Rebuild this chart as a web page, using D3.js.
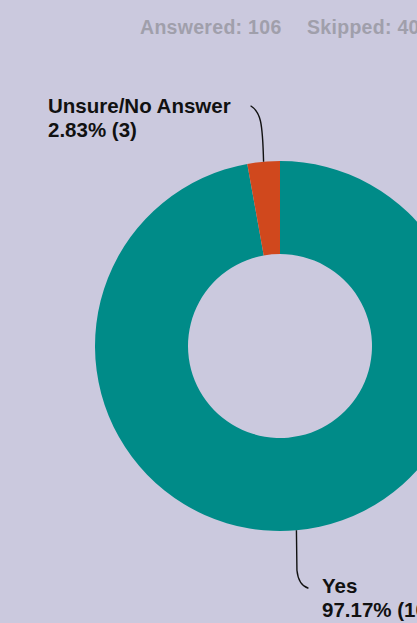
<!DOCTYPE html>
<html>
<head>
<meta charset="utf-8">
<script src="https://cdn.jsdelivr.net/npm/d3@7"></script>
<style>
  html, body { margin: 0; padding: 0; background: #cbc9de; overflow: hidden; }
  svg { display: block; font-family: "Liberation Sans", Arial, sans-serif; }
</style>
</head>
<body>
<script>
const categories = ["Yes", "Unsure/No Answer"];
const counts = [103, 3];
const percents = ["97.17%", "2.83%"];
const colors = ["#008b88", "#d0481d"];
const answered = 106;
const skipped = 40;

const width = 417,
  height = 623;

const cx = 280, cy = 346;
const outerR = 185, innerR = 92;

const svg = d3.select("body")
  .append("svg")
  .attr("width", width)
  .attr("height", height);

// header
svg.append("text")
  .attr("x", 140)
  .attr("y", 34)
  .attr("fill", "#a09fab")
  .attr("font-size", 19.5)
  .attr("font-weight", "bold")
  .attr("letter-spacing", 0.3)
  .text("Answered: " + answered);

svg.append("text")
  .attr("x", 307)
  .attr("y", 34)
  .attr("fill", "#a09fab")
  .attr("font-size", 19.5)
  .attr("font-weight", "bold")
  .attr("letter-spacing", 0.3)
  .text("Skipped: " + skipped);

const data = categories.map((c, i) => ({ name: c, count: counts[i], pct: percents[i], color: colors[i] }));

const pie = d3.pie().sort(null).value(d => d.count);
const arc = d3.arc().innerRadius(innerR).outerRadius(outerR);

const g = svg.append("g").attr("transform", "translate(" + cx + "," + cy + ")");

const arcs = pie(data);

g.selectAll("path.slice")
  .data(arcs)
  .join("path")
  .attr("class", "slice")
  .attr("d", arc)
  .attr("fill", d => d.data.color);

// leader lines + labels
arcs.forEach(d => {
  let a = (d.startAngle + d.endAngle) / 2;
  let x0 = outerR * Math.sin(a),
    y0 = -outerR * Math.cos(a);
  let line, lx, ly;
  if (y0 < 0) {
    // top label
    line = "M" + x0 + "," + y0 +
      " C" + (x0 - 1) + "," + (y0 - 40) + " " + (x0 - 3) + "," + (y0 - 50) + " " + (x0 - 13) + "," + (y0 - 56);
    lx = 48 - cx;
    ly = 113 - cy;
  } else {
    line = "M" + x0 + "," + y0 +
      " L" + (x0 + 0.5) + "," + (y0 + 40) +
      " Q" + (x0 + 2) + "," + (y0 + 55) + " " + (x0 + 12) + "," + (y0 + 58);
    lx = 322 - cx;
    ly = 593 - cy;
  }
  g.append("path")
    .attr("d", line)
    .attr("fill", "none")
    .attr("stroke", "#111")
    .attr("stroke-width", 1.4);

  let t = g.append("text")
    .attr("x", lx)
    .attr("y", ly)
    .attr("fill", "#111")
    .attr("font-size", 20.5)
    .attr("font-weight", "bold");
  t.append("tspan").attr("x", lx).text(d.data.name);
  t.append("tspan").attr("x", lx).attr("dy", 24).text(d.data.pct + " (" + d.data.count + ")");
});
</script>
</body>
</html>
